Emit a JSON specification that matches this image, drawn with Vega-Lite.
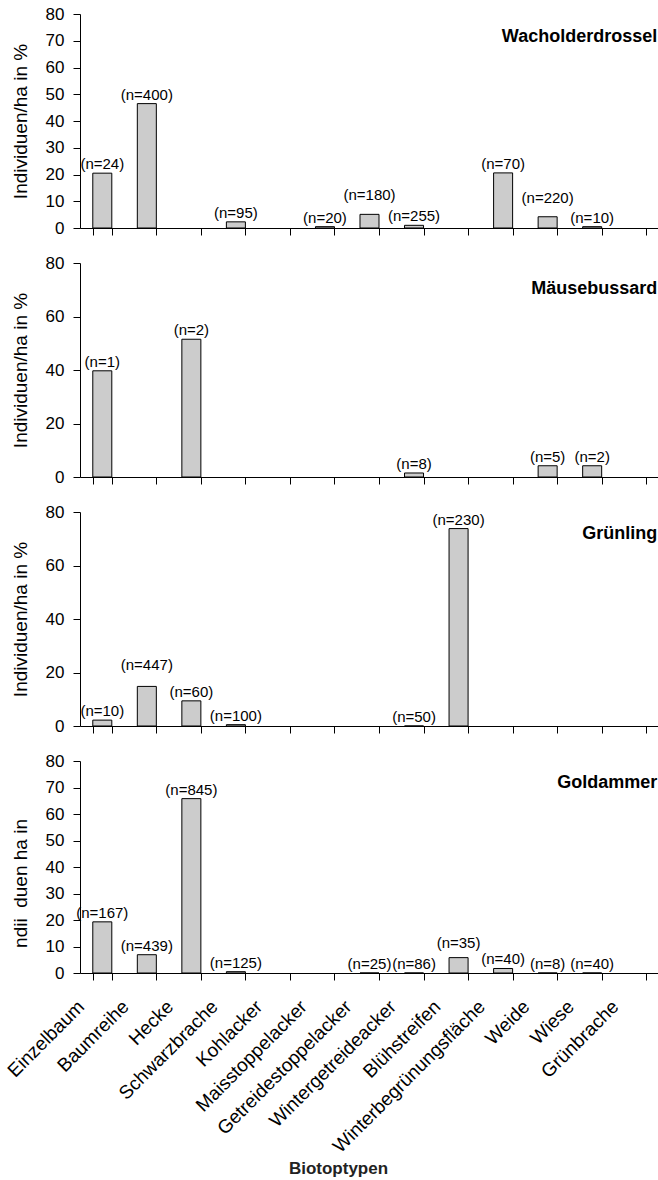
{
  "$schema": "https://vega.github.io/schema/vega-lite/v6.json",
  "padding": {"left": 4, "top": 5, "right": 0, "bottom": 4},
  "spacing": 18,
  "config": {
    "font": "Liberation Sans",
    "view": {"stroke": null},
    "axis": {"domainColor": "black", "tickColor": "black", "labelColor": "black", "titleColor": "black", "labelFontSize": 17, "tickSize": 7, "grid": false, "labelPadding": 9, "titleFontWeight": "normal", "titleFontSize": 19, "labelFont": "Liberation Sans", "titleFont": "Liberation Sans"},
    "text": {"font": "Liberation Sans"}
  },
  "datasets": {
    "birds": [
      {"species": "Wacholderdrossel", "cat": "Einzelbaum", "value": 20.5, "n": "(n=24)"},
      {"species": "Wacholderdrossel", "cat": "Baumreihe", "value": 46.5, "n": "(n=400)"},
      {"species": "Wacholderdrossel", "cat": "Schwarzbrache", "value": 2.3, "n": "(n=95)"},
      {"species": "Wacholderdrossel", "cat": "Maisstoppelacker", "value": 0.5, "n": "(n=20)"},
      {"species": "Wacholderdrossel", "cat": "Getreidestoppelacker", "value": 5.1, "n": "(n=180)"},
      {"species": "Wacholderdrossel", "cat": "Wintergetreideacker", "value": 1.0, "n": "(n=255)"},
      {"species": "Wacholderdrossel", "cat": "Winterbegrünungsfläche", "value": 20.6, "n": "(n=70)"},
      {"species": "Wacholderdrossel", "cat": "Weide", "value": 4.2, "n": "(n=220)"},
      {"species": "Wacholderdrossel", "cat": "Wiese", "value": 0.5, "n": "(n=10)"},
      {"species": "Mäusebussard", "cat": "Einzelbaum", "value": 39.7, "n": "(n=1)"},
      {"species": "Mäusebussard", "cat": "Hecke", "value": 51.5, "n": "(n=2)"},
      {"species": "Mäusebussard", "cat": "Wintergetreideacker", "value": 1.5, "n": "(n=8)"},
      {"species": "Mäusebussard", "cat": "Weide", "value": 4.2, "n": "(n=5)"},
      {"species": "Mäusebussard", "cat": "Wiese", "value": 4.2, "n": "(n=2)"},
      {"species": "Grünling", "cat": "Einzelbaum", "value": 2.2, "n": "(n=10)"},
      {"species": "Grünling", "cat": "Baumreihe", "value": 14.8, "n": "(n=447)"},
      {"species": "Grünling", "cat": "Hecke", "value": 9.4, "n": "(n=60)"},
      {"species": "Grünling", "cat": "Schwarzbrache", "value": 0.5, "n": "(n=100)"},
      {"species": "Grünling", "cat": "Wintergetreideacker", "value": 0, "n": "(n=50)"},
      {"species": "Grünling", "cat": "Blühstreifen", "value": 73.8, "n": "(n=230)"},
      {"species": "Goldammer", "cat": "Einzelbaum", "value": 19.3, "n": "(n=167)"},
      {"species": "Goldammer", "cat": "Baumreihe", "value": 6.9, "n": "(n=439)"},
      {"species": "Goldammer", "cat": "Hecke", "value": 65.8, "n": "(n=845)"},
      {"species": "Goldammer", "cat": "Schwarzbrache", "value": 0.5, "n": "(n=125)"},
      {"species": "Goldammer", "cat": "Getreidestoppelacker", "value": 0, "n": "(n=25)"},
      {"species": "Goldammer", "cat": "Wintergetreideacker", "value": 0, "n": "(n=86)"},
      {"species": "Goldammer", "cat": "Blühstreifen", "value": 5.8, "n": "(n=35)"},
      {"species": "Goldammer", "cat": "Winterbegrünungsfläche", "value": 1.7, "n": "(n=40)"},
      {"species": "Goldammer", "cat": "Weide", "value": 0, "n": "(n=8)"},
      {"species": "Goldammer", "cat": "Wiese", "value": 0, "n": "(n=40)"}
    ]
  },
  "vconcat": [
    {
      "width": 579, "height": 214,
      "data": {"name": "birds"},
      "transform": [{"filter": "datum.species === 'Wacholderdrossel'"}],
      "encoding": {
        "x": {"field": "cat", "type": "nominal", "sort": null,
          "scale": {"domain": ["Einzelbaum","Baumreihe","Hecke","Schwarzbrache","Kohlacker","Maisstoppelacker","Getreidestoppelacker","Wintergetreideacker","Blühstreifen","Winterbegrünungsfläche","Weide","Wiese","Grünbrache"], "paddingInner": 0.573, "paddingOuter": 0.287},
          "axis": {"labels": false, "title": null, "tickBand": "extent"}},
        "y": {"field": "value", "type": "quantitative", "scale": {"domain": [0, 80]},
          "axis": {"values": [0,10,20,30,40,50,60,70,80], "title": "Individuen/ha in %", "titlePadding": 15}}
      },
      "layer": [
        {"mark": {"type": "bar", "fill": "#cccccc", "stroke": "black", "strokeWidth": 1}},
        {"transform": [{"filter": "datum.cat !== 'Getreidestoppelacker' && datum.cat !== 'Weide'"}],
         "mark": {"type": "text", "fontSize": 15, "dy": -9, "baseline": "middle"}, "encoding": {"text": {"field": "n"}}},
        {"transform": [{"filter": "datum.cat === 'Getreidestoppelacker' || datum.cat === 'Weide'"}],
         "mark": {"type": "text", "fontSize": 15, "dy": -19, "baseline": "middle"}, "encoding": {"text": {"field": "n"}}},
        {"transform": [{"filter": "datum.cat === 'Einzelbaum'"}],
         "mark": {"type": "text", "fontSize": 18, "fontWeight": "bold", "align": "right", "baseline": "middle", "dx": 11},
         "encoding": {"x": {"datum": "Grünbrache", "bandPosition": 1}, "y": {"datum": 71.4}, "text": {"field": "species"}}}
      ]
    },
    {
      "width": 579, "height": 214,
      "data": {"name": "birds"},
      "transform": [{"filter": "datum.species === 'Mäusebussard'"}],
      "encoding": {
        "x": {"field": "cat", "type": "nominal", "sort": null,
          "scale": {"domain": ["Einzelbaum","Baumreihe","Hecke","Schwarzbrache","Kohlacker","Maisstoppelacker","Getreidestoppelacker","Wintergetreideacker","Blühstreifen","Winterbegrünungsfläche","Weide","Wiese","Grünbrache"], "paddingInner": 0.573, "paddingOuter": 0.287},
          "axis": {"labels": false, "title": null, "tickBand": "extent"}},
        "y": {"field": "value", "type": "quantitative", "scale": {"domain": [0, 80]},
          "axis": {"values": [0,20,40,60,80], "title": "Individuen/ha in %", "titlePadding": 15}}
      },
      "layer": [
        {"mark": {"type": "bar", "fill": "#cccccc", "stroke": "black", "strokeWidth": 1}},
        {"mark": {"type": "text", "fontSize": 15, "dy": -9, "baseline": "middle"}, "encoding": {"text": {"field": "n"}}},
        {"transform": [{"filter": "datum.cat === 'Einzelbaum'"}],
         "mark": {"type": "text", "fontSize": 18, "fontWeight": "bold", "align": "right", "baseline": "middle", "dx": 11},
         "encoding": {"x": {"datum": "Grünbrache", "bandPosition": 1}, "y": {"datum": 70.3}, "text": {"field": "species"}}}
      ]
    },
    {
      "width": 579, "height": 214,
      "data": {"name": "birds"},
      "transform": [{"filter": "datum.species === 'Grünling'"}],
      "encoding": {
        "x": {"field": "cat", "type": "nominal", "sort": null,
          "scale": {"domain": ["Einzelbaum","Baumreihe","Hecke","Schwarzbrache","Kohlacker","Maisstoppelacker","Getreidestoppelacker","Wintergetreideacker","Blühstreifen","Winterbegrünungsfläche","Weide","Wiese","Grünbrache"], "paddingInner": 0.573, "paddingOuter": 0.287},
          "axis": {"labels": false, "title": null, "tickBand": "extent"}},
        "y": {"field": "value", "type": "quantitative", "scale": {"domain": [0, 80]},
          "axis": {"values": [0,20,40,60,80], "title": "Individuen/ha in %", "titlePadding": 15}}
      },
      "layer": [
        {"mark": {"type": "bar", "fill": "#cccccc", "stroke": "black", "strokeWidth": 1}},
        {"transform": [{"filter": "datum.cat !== 'Baumreihe'"}],
         "mark": {"type": "text", "fontSize": 15, "dy": -9, "baseline": "middle"}, "encoding": {"text": {"field": "n"}}},
        {"transform": [{"filter": "datum.cat === 'Baumreihe'"}],
         "mark": {"type": "text", "fontSize": 15, "dy": -21, "baseline": "middle"}, "encoding": {"text": {"field": "n"}}},
        {"transform": [{"filter": "datum.cat === 'Einzelbaum'"}],
         "mark": {"type": "text", "fontSize": 18, "fontWeight": "bold", "align": "right", "baseline": "middle", "dx": 11},
         "encoding": {"x": {"datum": "Grünbrache", "bandPosition": 1}, "y": {"datum": 71.8}, "text": {"field": "species"}}}
      ]
    },
    {
      "width": 579, "height": 212,
      "data": {"name": "birds"},
      "transform": [{"filter": "datum.species === 'Goldammer'"}],
      "encoding": {
        "x": {"field": "cat", "type": "nominal", "sort": null,
          "scale": {"domain": ["Einzelbaum","Baumreihe","Hecke","Schwarzbrache","Kohlacker","Maisstoppelacker","Getreidestoppelacker","Wintergetreideacker","Blühstreifen","Winterbegrünungsfläche","Weide","Wiese","Grünbrache"], "paddingInner": 0.573, "paddingOuter": 0.287},
          "axis": {"labelAngle": -45, "labelFontSize": 19, "labelPadding": 17, "labelOffset": -28, "labelLimit": 400, "title": "Biotoptypen", "titleFontWeight": "bold", "titleFontSize": 17, "titleColor": "#222222", "titleX": 258, "titlePadding": 4, "tickBand": "extent"}},
        "y": {"field": "value", "type": "quantitative", "scale": {"domain": [0, 80]},
          "axis": {"values": [0,10,20,30,40,50,60,70,80], "title": "ndii\u00a0 duen ha in", "titlePadding": 15, "titleY": 122}}
      },
      "layer": [
        {"mark": {"type": "bar", "fill": "#cccccc", "stroke": "black", "strokeWidth": 1}},
        {"transform": [{"filter": "datum.cat !== 'Blühstreifen'"}],
         "mark": {"type": "text", "fontSize": 15, "dy": -9, "baseline": "middle"}, "encoding": {"text": {"field": "n"}}},
        {"transform": [{"filter": "datum.cat === 'Blühstreifen'"}],
         "mark": {"type": "text", "fontSize": 15, "dy": -15, "baseline": "middle"}, "encoding": {"text": {"field": "n"}}},
        {"transform": [{"filter": "datum.cat === 'Einzelbaum'"}],
         "mark": {"type": "text", "fontSize": 18, "fontWeight": "bold", "align": "right", "baseline": "middle", "dx": 11},
         "encoding": {"x": {"datum": "Grünbrache", "bandPosition": 1}, "y": {"datum": 71.7}, "text": {"field": "species"}}}
      ]
    }
  ]
}
